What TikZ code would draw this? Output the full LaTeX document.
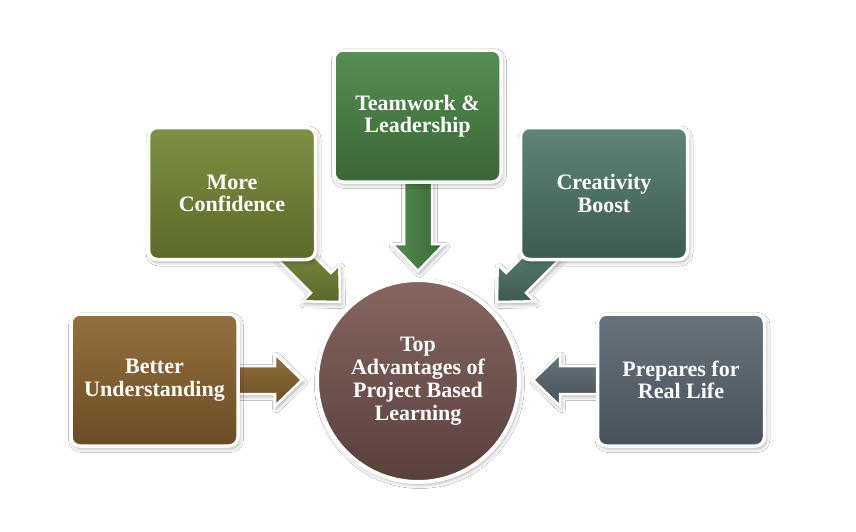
\documentclass[tikz,border=0pt]{standalone}
\usepackage{fontspec}
\setmainfont{Liberation Serif}
\usetikzlibrary{calc,shadows.blur}
\definecolor{bu1}{HTML}{94703F}\definecolor{bu2}{HTML}{6B4C24}
\definecolor{mc1}{HTML}{7F9146}\definecolor{mc2}{HTML}{5B6929}
\definecolor{tl1}{HTML}{558F52}\definecolor{tl2}{HTML}{3A6635}
\definecolor{cb1}{HTML}{5E8576}\definecolor{cb2}{HTML}{3D5B4F}
\definecolor{pr1}{HTML}{67747E}\definecolor{pr2}{HTML}{47525A}
\definecolor{ci1}{HTML}{866660}\definecolor{ci2}{HTML}{58403B}
\newcommand\fatarrow[4]{%
  \coordinate (#1h) at ($(#3)!27pt!(#2)$);
  \path[fat,#4] ($(#2)!14pt!90:(#3)$) -- ($(#1h)!14pt!90:(#3)$) -- ($(#1h)!26pt!90:(#3)$)
    -- (#3) -- ($(#1h)!26pt!-90:(#3)$) -- ($(#1h)!14pt!-90:(#3)$) -- ($(#2)!14pt!-90:(#3)$) -- cycle;
}
\begin{document}
\begin{tikzpicture}[x=1pt,y=-1pt,
  shadowed/.style={blur shadow={shadow xshift=1.5pt,shadow yshift=-2.5pt,shadow blur radius=4pt,shadow opacity=35}},
  box/.style={shadowed,draw=white,line width=3.5pt,rounded corners=9pt,minimum width=167pt,minimum height=132pt,
    align=center,text=white,font=\bfseries\fontsize{22}{22.5}\selectfont,inner sep=2pt},
  fat/.style={shadowed,draw=white,line width=2.5pt,line join=miter},
  hub/.style={shadowed,circle,draw=white,line width=4pt,minimum size=202pt,align=center,text=white,
    font=\bfseries\fontsize{22}{23}\selectfont,top color=ci1,bottom color=ci2,inner sep=0pt}]
\useasboundingbox (0,0) rectangle (856,531);
\fill[white] (0,0) rectangle (856,531);
% anchor points of the connectors
\coordinate (s1) at (232,380);   \coordinate (t1) at (302,380);
\coordinate (s2) at (284,246);   \coordinate (t2) at (340,302);
\coordinate (s3) at (418,172);   \coordinate (t3) at (418,271);
\coordinate (s4) at (553,246);   \coordinate (t4) at (497,302);
\coordinate (s5) at (605,380);   \coordinate (t5) at (533,380);
\fatarrow{a1}{s1}{t1}{top color=bu1,bottom color=bu2}
\fatarrow{a2}{s2}{t2}{top color=mc1,bottom color=mc2}
\fatarrow{a3}{s3}{t3}{left color=tl1,right color=tl2}
\fatarrow{a4}{s4}{t4}{top color=cb1,bottom color=cb2}
\fatarrow{a5}{s5}{t5}{top color=pr1,bottom color=pr2}
\node[box,top color=bu1,bottom color=bu2] (bu) at (154.5,380) {Better\\Understanding};
\node[box,top color=mc1,bottom color=mc2] (mc) at (232,193.5) {More\\Confidence};
\node[box,top color=tl1,bottom color=tl2] (tl) at (417.5,116) {Teamwork \&\\Leadership};
\node[box,top color=cb1,bottom color=cb2] (cb) at (604,193.5) {Creativity\\Boost};
\node[box,top color=pr1,bottom color=pr2] (pr) at (681,380) {Prepares for\\Real Life};
\node[hub] (hub) at (418,381) {Top\\Advantages of\\Project Based\\Learning};
\end{tikzpicture}
\end{document}
